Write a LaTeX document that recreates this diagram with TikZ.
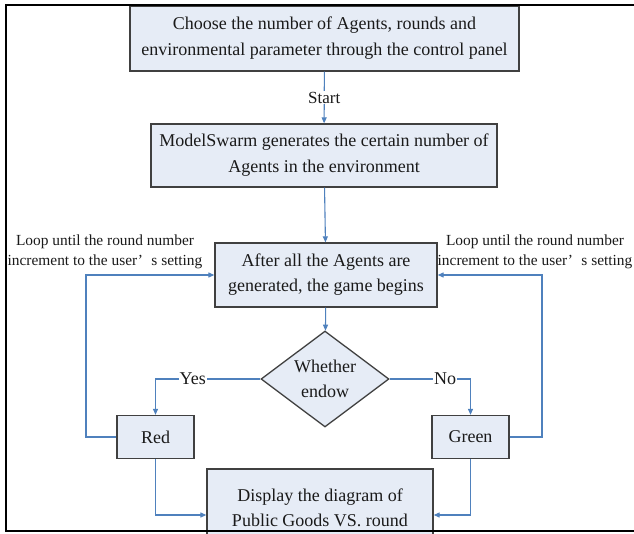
\documentclass[tikz,border=0pt]{standalone}
\usepackage{fontspec}
\setmainfont{Liberation Serif}
\usetikzlibrary{shapes.geometric,arrows.meta}

\definecolor{boxfill}{HTML}{E6ECF6}
\definecolor{boxline}{HTML}{404040}
\definecolor{flow}{HTML}{4F81BD}
\definecolor{ink}{HTML}{1A1A1A}

\tikzset{
  stepbox/.style={draw=boxline, line width=1.3pt, fill=boxfill, inner sep=0pt,
    align=center, text=ink, font=\fontsize{18}{26}\selectfont},
  decision/.style={stepbox, shape=diamond, aspect=1.333,
    minimum width=128pt, minimum height=96pt, font=\fontsize{18}{25}\selectfont},
  flowline/.style={draw=flow, line width=1.1pt, -{Triangle[length=6pt,width=5pt]}},
  branchlbl/.style={fill=white, inner sep=1pt, text=ink, font=\fontsize{18}{22}\selectfont},
  looplbl/.style={align=center, text=ink, font=\fontsize{15.4}{20}\selectfont},
}

\begin{document}
\begin{tikzpicture}[x=1pt, y=-1pt]
  \useasboundingbox (0,0) rectangle (634,533);
  \clip (0,0) rectangle (634,533);
  \fill[white] (0,0) rectangle (634,533);

  % process boxes
  \node[stepbox, minimum width=389pt, minimum height=65pt] (choose) at (324.5,38.5)
    {Choose the number of Agents, rounds and\\environmental parameter through the control panel};
  \node[stepbox, minimum width=346pt, minimum height=63pt] (swarm) at (324,155.5)
    {ModelSwarm generates the certain number of\\Agents in the environment};
  \node[stepbox, font=\fontsize{18}{25}\selectfont, minimum width=222pt, minimum height=64pt] (game) at (326,275)
    {After all the Agents are\\generated, the game begins};
  \node[decision] (endow) at (325,379) {Whether\\endow};
  \node[stepbox, minimum width=77pt, minimum height=43pt] (red) at (155.5,437) {Red};
  \node[stepbox, minimum width=77pt, minimum height=43pt] (green) at (470.5,437) {Green};
  \node[stepbox, font=\fontsize{18}{25}\selectfont, minimum width=226pt, minimum height=77pt] (show) at (320,507.5)
    {Display the diagram of\\Public Goods VS. round};

  % main flow
  \draw[flowline] (choose) -- node[branchlbl, font=\fontsize{17}{20}\selectfont] (start) {Start} (swarm);
  \draw[flowline] (swarm) -- (game);
  \draw[flowline] (game) -- (endow);

  % decision branches
  \draw[flowline] (endow.west) -- node[branchlbl, pos=0.645] (yes) {Yes} (red.north |- endow.west) -- (red.north);
  \draw[flowline] (endow.east) -- node[branchlbl, pos=0.687] (no) {No} (green.north |- endow.east) -- (green.north);

  % loops back to the game
  \coordinate (lcorner) at (86,437);
  \coordinate (rcorner) at (542,437);
  \draw[flowline] (red.west) -- (lcorner) |- (game.west);
  \draw[flowline] (green.east) -- (rcorner) |- (game.east);

  % results to display
  \draw[flowline] (red.south) |- ([yshift=-7.5pt]show.west);
  \draw[flowline] (green.south) |- ([yshift=-7.5pt]show.east);

  % loop notes
  \node[looplbl] (lnote) at (105,252) {Loop until the round number\\increment to the user’\hspace{0.55em}s setting};
  \node[looplbl] (rnote) at (535,252) {Loop until the round number\\increment to the user’\hspace{0.55em}s setting};

  % outer frame
  \draw[black, line width=2.6pt] (640,5) -- (6,5) -- (6,531) -- (640,531);
\end{tikzpicture}
\end{document}
